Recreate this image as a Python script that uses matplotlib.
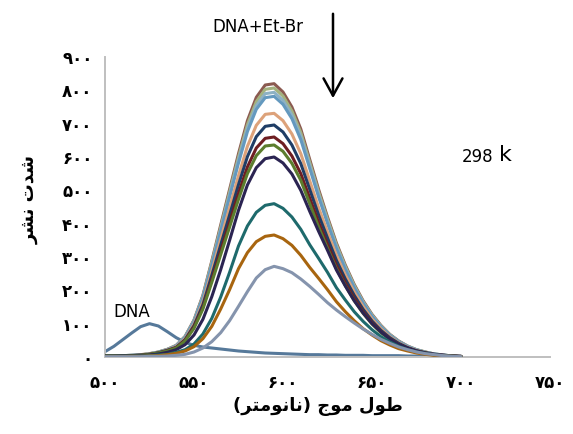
import matplotlib
matplotlib.use("Agg")
import matplotlib.pyplot as plt
from matplotlib import font_manager

# ---------------- data ----------------
wavelength = list(range(500, 705, 5))

dna = [16, 32, 52, 72, 91, 100, 93, 76, 58, 44, 35, 30, 27, 24, 21, 18, 16, 14, 12, 11,
       10, 9, 8, 7, 7, 6, 6, 5, 5, 5, 4, 4, 4, 4, 3, 3, 3, 3, 2, 2, 2]

ebr_brown = [3, 3, 4, 5, 7, 10, 15, 23, 35, 62, 111, 185, 288, 396, 503, 610, 709, 779, 816, 820,
             795, 750, 684, 593, 503, 420, 342, 276, 218, 169, 128, 95, 68, 48, 33, 22, 15, 9, 6, 3, 2]
ebr_lightolive = [3, 3, 4, 5, 6, 10, 15, 23, 34, 61, 109, 182, 284, 389, 495, 600, 697, 766, 803, 807,
                  783, 738, 673, 584, 495, 414, 337, 272, 215, 166, 126, 93, 67, 47, 32, 22, 15, 9, 6, 3, 2]
ebr_lightblue = [3, 3, 4, 5, 6, 10, 14, 22, 34, 60, 108, 180, 279, 383, 487, 591, 686, 754, 790, 794,
                 770, 726, 662, 575, 487, 407, 331, 267, 211, 164, 124, 92, 66, 46, 32, 22, 14, 9, 6, 3, 2]
ebr_steelblue = [3, 3, 4, 5, 6, 9, 14, 22, 33, 59, 106, 177, 275, 377, 480, 582, 676, 743, 778, 782,
                 758, 715, 652, 566, 480, 401, 326, 263, 208, 161, 122, 90, 65, 46, 31, 21, 14, 9, 6, 3, 2]
ebr_peach = [3, 3, 4, 4, 6, 9, 13, 21, 31, 55, 99, 165, 257, 353, 448, 544, 632, 695, 728, 731,
             709, 669, 610, 529, 448, 375, 305, 246, 195, 151, 114, 85, 61, 43, 29, 20, 13, 8, 5, 3, 2]
ebr_navy = [3, 3, 3, 4, 6, 8, 13, 20, 29, 52, 94, 157, 245, 336, 426, 517, 601, 661, 692, 696,
            675, 636, 580, 503, 426, 357, 290, 234, 185, 143, 108, 80, 58, 41, 28, 19, 13, 8, 5, 3, 1]
ebr_darkred = [3, 3, 3, 4, 5, 8, 12, 19, 28, 50, 90, 149, 232, 318, 404, 491, 570, 627, 656, 660,
               640, 603, 550, 477, 404, 338, 275, 222, 176, 136, 103, 76, 55, 38, 27, 18, 12, 7, 5, 3, 1]
ebr_olive = [3, 3, 3, 4, 5, 8, 12, 18, 27, 48, 86, 144, 224, 307, 390, 473, 550, 604, 633, 636,
             617, 581, 530, 460, 390, 326, 265, 214, 169, 131, 99, 73, 53, 37, 26, 17, 12, 7, 4, 3, 1]
ebr_purple = [2, 2, 3, 3, 4, 6, 9, 14, 22, 37, 66, 113, 181, 262, 350, 440, 516, 568, 595, 600,
              582, 549, 500, 437, 377, 320, 261, 213, 169, 132, 100, 75, 54, 38, 27, 18, 12, 8, 5, 3, 2]
ebr_teal = [2, 2, 2, 2, 3, 4, 6, 8, 14, 22, 39, 69, 116, 180, 254, 333, 393, 434, 455, 460,
            446, 420, 383, 337, 296, 254, 208, 171, 136, 107, 82, 61, 45, 32, 22, 15, 10, 6, 4, 2, 1]
ebr_orange = [1, 1, 1, 2, 2, 3, 4, 7, 11, 18, 31, 55, 92, 144, 202, 265, 313, 346, 362, 366,
              355, 335, 305, 269, 236, 202, 166, 136, 109, 85, 66, 49, 36, 25, 18, 12, 8, 5, 3, 2, 1]
ebr_grayblue = [1, 1, 1, 1, 1, 2, 2, 3, 5, 8, 15, 27, 46, 73, 109, 152, 196, 237, 262, 272,
                265, 253, 234, 212, 188, 163, 141, 121, 102, 84, 68, 53, 41, 30, 22, 15, 10, 7, 4, 2, 1]

series = [ebr_brown, ebr_lightolive, ebr_lightblue, ebr_steelblue, ebr_peach, ebr_navy,
          ebr_darkred, ebr_olive, ebr_purple, ebr_teal, ebr_orange, ebr_grayblue]
series_colors = ["#8B5A50", "#A3B27F", "#8DB1C4", "#6499BF", "#DDA27A", "#1F3D66",
                 "#6E1E22", "#5C7D2E", "#2B2452", "#1E6A6C", "#A8650F", "#8594AD"]
dna_color = "#56799A"

fa = lambda n: "".join(chr(0x06F0 + int(c)) for c in str(n))
x_ticks = [500, 550, 600, 650, 700, 750]
y_ticks = [0, 100, 200, 300, 400, 500, 600, 700, 800, 900]
x_tick_labels = [fa(v) for v in x_ticks]
y_tick_labels = [fa(v) for v in y_ticks]

# Arabic-script labels in shaped, visual (left-to-right) order
y_label = "\uFEAE\uFEB8\uFEE7 \uFE95\uFEAA\uFEB7"                      # شدت نشر
x_label = ("(\uFEAE\uFE98\uFEE3\uFEEE\uFEE7\uFE8E\uFEE7) "
           "\uFE9D\uFEEE\uFEE3 \uFEDD\uFEEE\uFEC3")                     # طول موج (نانومتر)

# ---------------- fonts ----------------
avail = {f.name for f in font_manager.fontManager.ttflist}
narrow = "Liberation Sans Narrow" if "Liberation Sans Narrow" in avail else "DejaVu Sans"

# ---------------- figure ----------------
W, H = 573, 434
fig = plt.figure(figsize=(W / 100, H / 100), dpi=100)
ax = fig.add_axes([105 / W, (H - 357) / H, 445 / W, 300 / H])

ax.plot(wavelength, dna, color=dna_color, lw=2.2, solid_capstyle="round", zorder=2)
for vals, col in zip(series, series_colors):
    ax.plot(wavelength, vals, color=col, lw=2.2, solid_capstyle="round", zorder=3)

ax.set_xlim(500, 750)
ax.set_ylim(0, 900)
for s in ["top", "right"]:
    ax.spines[s].set_visible(False)
for s in ["left", "bottom"]:
    ax.spines[s].set_color("#BFBFBF")
    ax.spines[s].set_linewidth(1.4)

ax.set_xticks(x_ticks)
ax.set_xticklabels(x_tick_labels, fontsize=12, fontweight="bold", family="DejaVu Sans")
ax.set_yticks(y_ticks)
ax.set_yticklabels(y_tick_labels, fontsize=12, fontweight="bold", family="DejaVu Sans")
ax.tick_params(axis="x", length=0, pad=12)
ax.tick_params(axis="y", length=0, pad=9)

fig.text(30 / W, 1 - 200 / H, y_label, rotation=90, ha="center", va="center",
         fontsize=13, fontweight="bold", family="DejaVu Sans")
fig.text(318 / W, 1 - 406 / H, x_label, ha="center", va="center",
         fontsize=13, fontweight="bold", family="DejaVu Sans")

fig.text(258 / W, 1 - 27 / H, "DNA+Et-Br", ha="center", va="center", fontsize=12, family=narrow)
fig.text(132 / W, 1 - 312 / H, "DNA", ha="center", va="center", fontsize=12, family=narrow)
fig.text(478 / W, 1 - 157 / H, "298", ha="center", va="center", fontsize=12, family=narrow)
fig.text(505 / W, 1 - 155 / H, "k", ha="center", va="center", fontsize=16, family=narrow)

ax.annotate("", xy=(333, H - 101), xytext=(333, H - 11), xycoords="figure pixels",
            textcoords="figure pixels",
            arrowprops=dict(arrowstyle="->,head_length=0.62,head_width=0.34", lw=1.8,
                            color="black", mutation_scale=20))

fig.savefig("out.png", dpi=100)
